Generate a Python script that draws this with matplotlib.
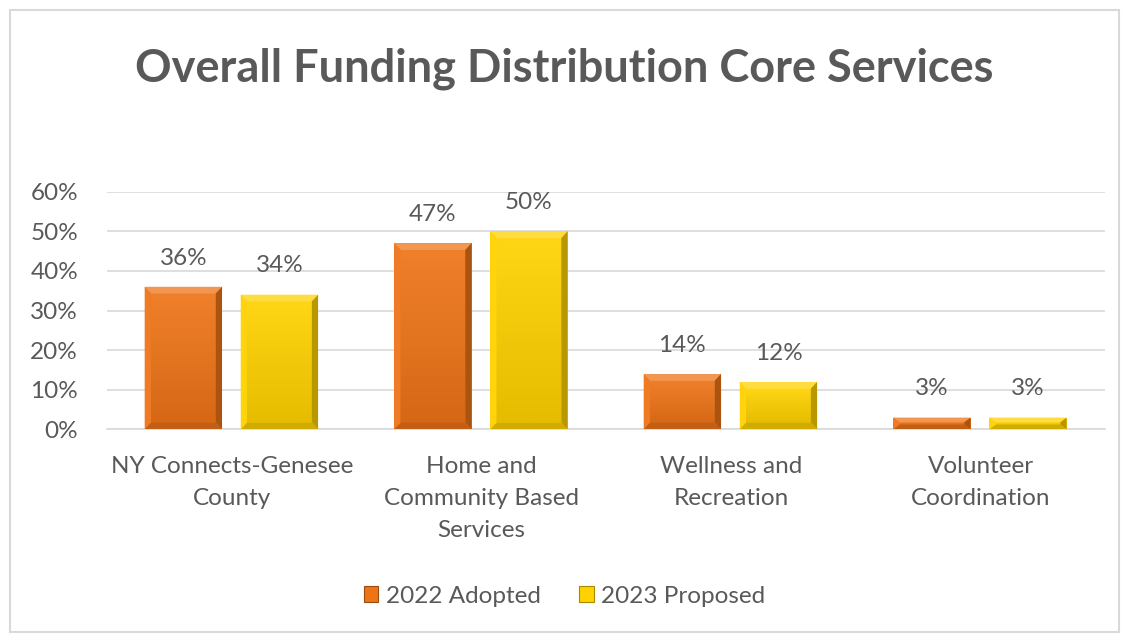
import matplotlib.pyplot as plt
import numpy as np
from matplotlib.patches import Rectangle, Polygon
from matplotlib.colors import to_rgb

categories = ["NY Connects-Genesee\nCounty", "Home and\nCommunity Based\nServices",
              "Wellness and\nRecreation", "Volunteer\nCoordination"]
adopted_2022 = [36, 47, 14, 3]
proposed_2023 = [34, 50, 12, 3]
series_names = ["2022 Adopted", "2023 Proposed"]
yticks = [0, 10, 20, 30, 40, 50, 60]

txt = "#595959"
plt.rcParams["font.family"] = ["Lato", "DejaVu Sans"]

fig = plt.figure(figsize=(11.29, 6.41), dpi=100)
ax = fig.add_axes([0.095, 0.33, 0.884, 0.371])

def shade(c, f):
    r = np.array(to_rgb(c))
    if f > 0:
        return tuple(r + (1 - r) * f)
    return tuple(r * (1 + f))

def bevel_bar(x, w, h, base):
    # flat face plus four bevelled edges
    bx = 0.025
    by = min(1.7, h / 2.5)
    ax.add_patch(Rectangle((x, 0), w, h, facecolor=base, edgecolor="none", zorder=3))
    # vertical gradient of the face
    img = np.linspace(0, 1, 64).reshape(-1, 1)
    top = np.array(shade(base, 0.08))
    bot = np.array(shade(base, -0.1))
    grad = bot + (top - bot) * img[..., None]
    ax.imshow(grad, extent=(x + bx, x + w - bx, by, h - by), origin="lower",
              aspect="auto", zorder=3.2, interpolation="bilinear")
    edges = [
        ([(x, h), (x + w, h), (x + w - bx, h - by), (x + bx, h - by)], 0.25),
        ([(x, 0), (x + bx, by), (x + bx, h - by), (x, h)], 0.05),
        ([(x + w, 0), (x + w, h), (x + w - bx, h - by), (x + w - bx, by)], -0.28),
        ([(x, 0), (x + w, 0), (x + w - bx, by), (x + bx, by)], -0.18),
    ]
    for pts, f in edges:
        ax.add_patch(Polygon(pts, closed=True, facecolor=shade(base, f),
                             edgecolor="none", zorder=3.5))

colors = ["#EE7418", "#FFD200"]
xpos = np.arange(len(categories))
width = 0.31
offsets = [-0.195, 0.19]
for vals, off, col in zip([adopted_2022, proposed_2023], offsets, colors):
    for xi, v in zip(xpos, vals):
        bevel_bar(xi + off - width / 2, width, v, col)
        ax.text(xi + off, v + 4.6, f"{v}%", ha="center", va="bottom",
                fontsize=17.5, color=txt, zorder=5)

ax.set_xlim(-0.5, len(categories) - 0.5)
ax.set_ylim(0, 60)
ax.set_yticks(yticks)
ax.set_yticklabels([f"{t}%" for t in yticks])
ax.set_xticks(xpos)
ax.set_xticklabels(categories, linespacing=1.65)
ax.tick_params(axis="both", length=0, labelsize=17.5, labelcolor=txt)
ax.tick_params(axis="x", pad=19)
ax.tick_params(axis="y", pad=21)
ax.grid(axis="y", color="#D9D9D9", linewidth=1.2, zorder=0)
ax.set_axisbelow(True)
for s in ["top", "right", "left"]:
    ax.spines[s].set_visible(False)
ax.spines["bottom"].set_color("#D9D9D9")
ax.spines["bottom"].set_linewidth(1.2)

fig.text(0.5, 0.893, "Overall Funding Distribution Core Services", ha="center",
         va="center", fontsize=32.5, fontweight="bold", color=txt)

handles = [Rectangle((0, 0), 1, 1, facecolor=c, edgecolor=shade(c, -0.35), linewidth=0.8)
           for c in colors]
fig.legend(handles, series_names, loc="center", bbox_to_anchor=(0.5, 0.07), ncol=2,
           frameon=False, fontsize=17.5, labelcolor=txt, handlelength=0.6,
           handleheight=0.6, handletextpad=0.3, columnspacing=1.6)

fig.add_artist(Rectangle((0.009, 0.014), 0.982, 0.97, transform=fig.transFigure,
                         fill=False, edgecolor="#D9D9D9", linewidth=1.5))

fig.savefig("out.png", dpi=100)
